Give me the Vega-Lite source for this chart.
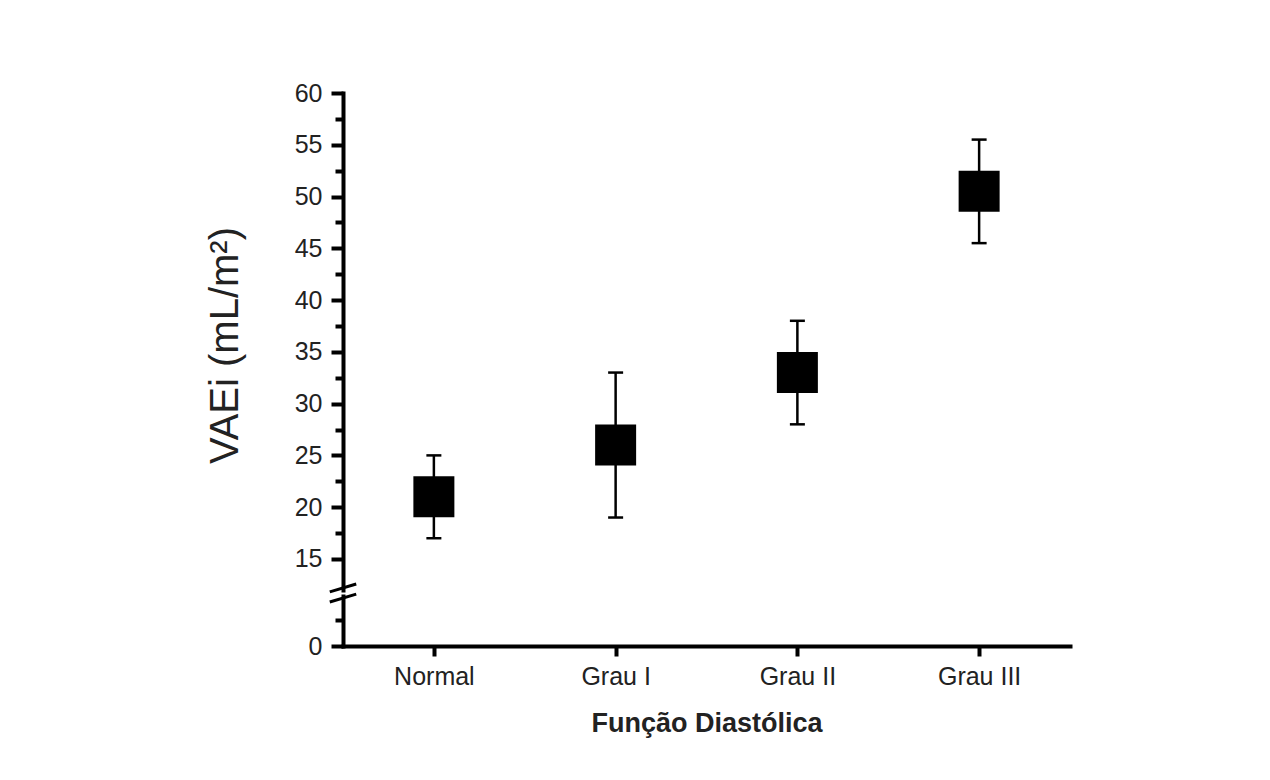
{
  "$schema": "https://vega.github.io/schema/vega-lite/v6.json",
  "background": "white",
  "padding": {"left": 205, "top": 81, "right": 10, "bottom": 10},
  "bounds": "flush",
  "config": {
    "view": {"stroke": null},
    "font": "Liberation Sans",
    "axis": {
      "domainColor": "black", "domainWidth": 4, "domainCap": "square",
      "tickColor": "black", "tickWidth": 4, "grid": false,
      "labelColor": "#222", "titleColor": "#222",
      "labelFont": "Liberation Sans", "titleFont": "Liberation Sans"
    }
  },
  "datasets": {
    "stats": [
      {"grupo": "Normal", "media": 21, "inferior": 17, "superior": 25},
      {"grupo": "Grau I", "media": 26, "inferior": 19, "superior": 33},
      {"grupo": "Grau II", "media": 33, "inferior": 28, "superior": 38},
      {"grupo": "Grau III", "media": 50.5, "inferior": 45.5, "superior": 55.5}
    ],
    "quebra": [{"marca": "quebra"}]
  },
  "resolve": {"scale": {"x": "independent", "y": "independent"}},
  "spacing": 6,
  "vconcat": [
    {
      "width": 727, "height": 497,
      "data": {"name": "stats"},
      "encoding": {
        "x": {"field": "grupo", "type": "nominal",
              "scale": {"type": "point", "domain": ["Normal", "Grau I", "Grau II", "Grau III"], "padding": 0.5},
              "axis": null}
      },
      "resolve": {"axis": {"y": "independent"}},
      "layer": [
        {
          "mark": {"type": "point", "opacity": 0},
          "encoding": {
            "y": {"field": "media", "type": "quantitative",
                  "scale": {"domain": [12, 60], "nice": false, "zero": false},
                  "axis": {"orient": "left", "domain": false, "labels": false, "title": null,
                           "values": [17.5, 22.5, 27.5, 32.5, 37.5, 42.5, 47.5, 52.5, 57.5],
                           "tickSize": 8}}
          }
        },
        {
          "mark": {"type": "rule", "color": "black", "strokeWidth": 2.5},
          "encoding": {
            "y": {"field": "inferior", "type": "quantitative",
                  "scale": {"domain": [12, 60], "nice": false, "zero": false},
                  "axis": {
                    "orient": "left", "title": "VAEi (mL/m²)",
                    "values": [15, 20, 25, 30, 35, 40, 45, 50, 55, 60],
                    "tickSize": 12,
                    "labelFontSize": 25, "labelPadding": 9,
                    "titleFontSize": 40, "titleFontWeight": "normal",
                    "titleX": -106, "titleY": 252, "titleBaseline": "alphabetic", "titleAlign": "center"
                  }},
            "y2": {"field": "superior"}
          }
        },
        {
          "mark": {"type": "tick", "color": "black", "thickness": 2.5, "size": 15, "opacity": 1},
          "encoding": {"y": {"field": "superior", "type": "quantitative", "axis": null}}
        },
        {
          "mark": {"type": "tick", "color": "black", "thickness": 2.5, "size": 15, "opacity": 1},
          "encoding": {"y": {"field": "inferior", "type": "quantitative", "axis": null}}
        },
        {
          "mark": {"type": "point", "shape": "square", "filled": true, "color": "black", "size": 1681, "opacity": 1},
          "encoding": {"y": {"field": "media", "type": "quantitative", "axis": null}}
        },
        {
          "data": {"name": "quebra"},
          "mark": {"type": "point", "shape": "M-1,0.3L1,-0.3", "filled": false, "color": "black", "strokeWidth": 3, "size": 700, "opacity": 1},
          "encoding": {"x": {"value": 0}, "y": {"datum": 12.2, "axis": null}}
        }
      ]
    },
    {
      "width": 727, "height": 50,
      "data": {"name": "stats"},
      "encoding": {
        "x": {"field": "grupo", "type": "nominal",
              "scale": {"type": "point", "domain": ["Normal", "Grau I", "Grau II", "Grau III"], "padding": 0.5},
              "axis": {"title": "Função Diastólica", "labelAngle": 0, "labelFontSize": 25, "tickSize": 10, "labelPadding": 8,
                       "titleFontSize": 27, "titleFontWeight": "bold", "titleY": 85, "titleBaseline": "alphabetic"}}
      },
      "resolve": {"axis": {"y": "independent"}},
      "layer": [
        {
          "mark": {"type": "point", "opacity": 0},
          "encoding": {
            "y": {"datum": 0, "type": "quantitative",
                  "scale": {"domain": [0, 4.8], "nice": false, "zero": false},
                  "axis": {"orient": "left", "title": null, "values": [0], "tickSize": 12,
                           "labelFontSize": 25, "labelPadding": 9}}
          }
        },
        {
          "mark": {"type": "point", "opacity": 0},
          "encoding": {
            "y": {"datum": 2.5, "type": "quantitative",
                  "scale": {"domain": [0, 4.8], "nice": false, "zero": false},
                  "axis": {"orient": "left", "title": null, "values": [2.5], "tickSize": 8,
                           "labels": false, "domain": false}}
          }
        },
        {
          "data": {"name": "quebra"},
          "mark": {"type": "point", "shape": "M-1,0.3L1,-0.3", "filled": false, "color": "black", "strokeWidth": 3, "size": 700, "opacity": 1},
          "encoding": {"x": {"value": 0}, "y": {"datum": 4.6, "axis": null}}
        }
      ]
    }
  ]
}
